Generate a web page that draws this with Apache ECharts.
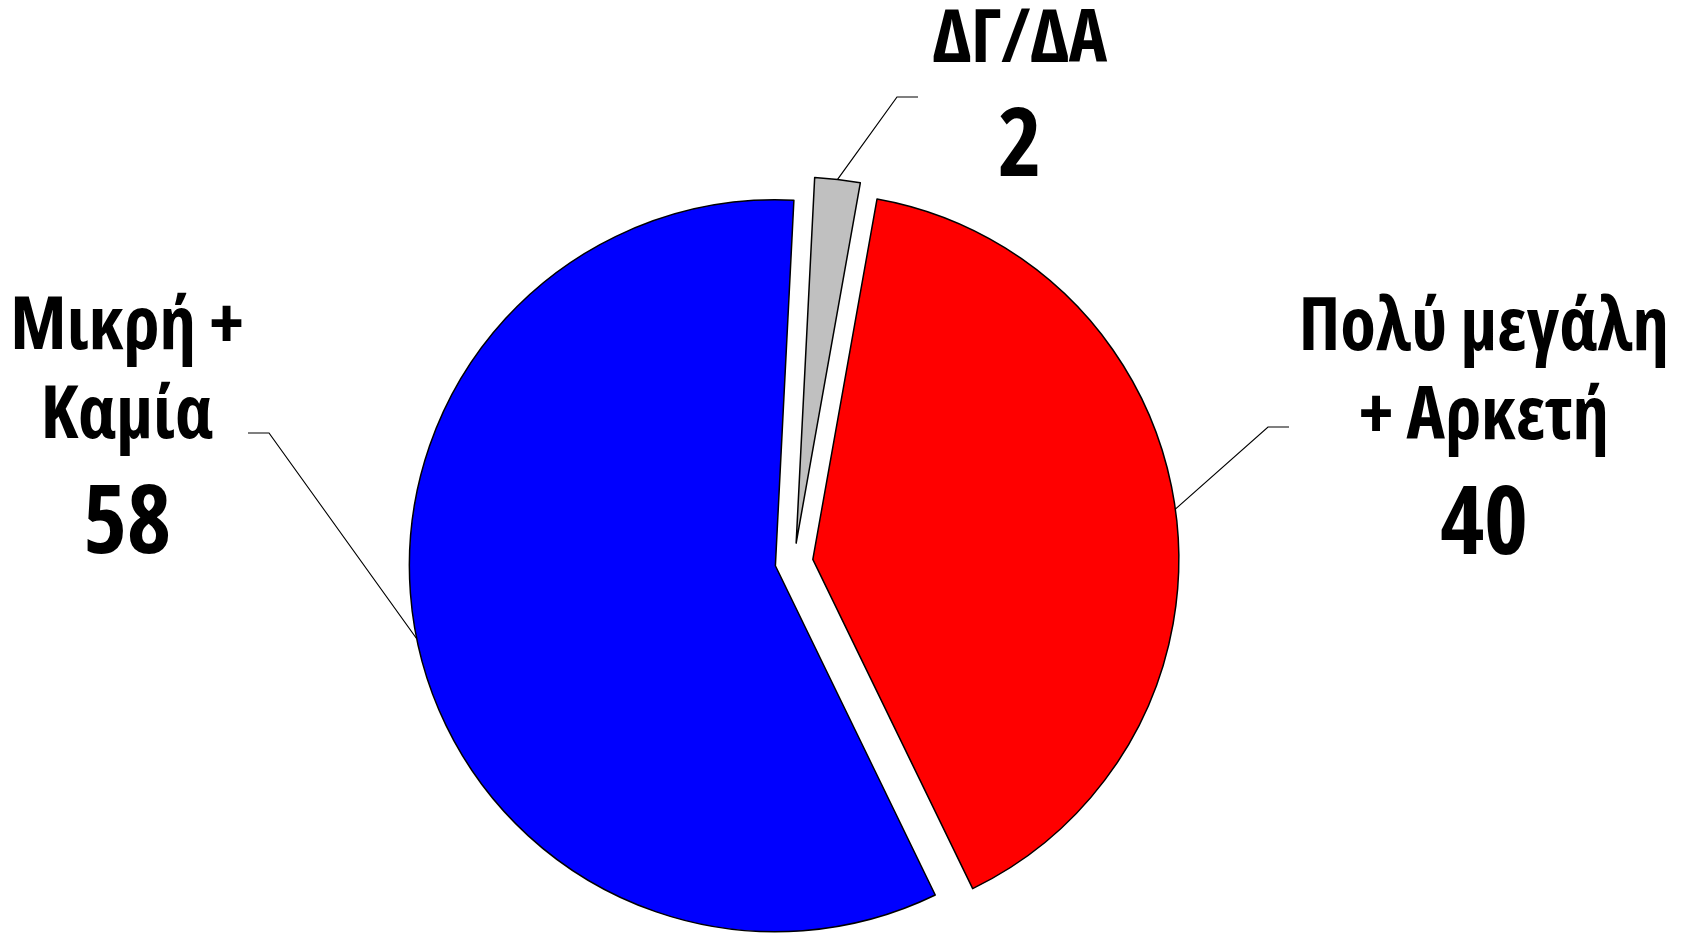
<!DOCTYPE html>
<html><head><meta charset="utf-8">
<script src="https://cdn.jsdelivr.net/npm/echarts@6/dist/echarts.min.js"></script>
<style>html,body{margin:0;padding:0;background:#fff}#c{width:1688px;height:933px}</style>
</head><body><div id="c"></div>
<script>
// ---- data ----
const categories = ['Πολύ μεγάλη\n+ Αρκετή', 'Μικρή +\nΚαμία', 'ΔΓ/ΔΑ'];
const values = [40, 58, 2];
const colors = ['#FF0000', '#0000FF', '#C0C0C0'];

// ---- layout ----
const PIE_CENTER = [794, 562];
const PIE_RADIUS = 366;
const EXPLODE = 19;
const START_ANGLE = 79.9;
const ELBOW = 21;
const labelPos = [
  {x: 1484, y: 438, endX: 1289, endY: 427},
  {x: 127, y: 437, endX: 248, endY: 433},
  {x: 1020, y: 105, endX: 918, endY: 97}
];
const FONT = "'Open Sans', 'Liberation Sans', sans-serif";
const WEIGHT = 'bold condensed';

const chart = echarts.init(document.getElementById('c'), null, {renderer: 'canvas'});
const total = values.reduce((a, b) => a + b, 0);
let cum = 0;
const series = values.map((v, i) => {
  const midFrac = (cum + v / 2) / total;
  cum += v;
  const a = (START_ANGLE - 360 * midFrac) * Math.PI / 180;
  const center = [PIE_CENTER[0] + EXPLODE * Math.cos(a), PIE_CENTER[1] - EXPLODE * Math.sin(a)];
  return {
    type: 'pie',
    center: center,
    radius: PIE_RADIUS,
    startAngle: START_ANGLE,
    clockwise: true,
    avoidLabelOverlap: false,
    silent: true,
    animation: false,
    emphasis: {disabled: true},
    data: values.map((w, j) => j === i ? {
      name: categories[j], value: w,
      itemStyle: {color: colors[j], borderColor: '#000', borderWidth: 1.5},
      label: {show: true},
      labelLine: {show: true}
    } : {
      name: categories[j], value: w,
      itemStyle: {color: 'rgba(0,0,0,0)', borderWidth: 0},
      label: {show: false},
      labelLine: {show: false}
    }),
    label: {
      position: 'outside',
      formatter: p => p.name.split('\n').map(s => '{n|' + s + '}').join('\n') + '\n{v|' + p.value + '}',
      align: 'center',
      rich: {
        n: {fontFamily: FONT, fontWeight: WEIGHT, fontSize: 73, lineHeight: 89, color: '#000', align: 'center'},
        v: {fontFamily: FONT, fontWeight: WEIGHT, fontSize: 94, lineHeight: 128, color: '#000', align: 'center'}
      }
    },
    labelLine: {lineStyle: {color: '#000', width: 1.2}, length: 10, length2: 10, smooth: false},
    labelLayout: params => {
      const lp = labelPos[params.dataIndex];
      const start = params.labelLinePoints ? params.labelLinePoints[0] : [lp.endX, lp.endY];
      const dir = lp.endX < start[0] ? 1 : -1;
      return {
        x: lp.x, y: lp.y, align: 'center', verticalAlign: 'middle',
        labelLinePoints: [start, [lp.endX + dir * ELBOW, lp.endY], [lp.endX, lp.endY]]
      };
    }
  };
});

chart.setOption({backgroundColor: '#fff', animation: false, series: series});
</script>
</body></html>
